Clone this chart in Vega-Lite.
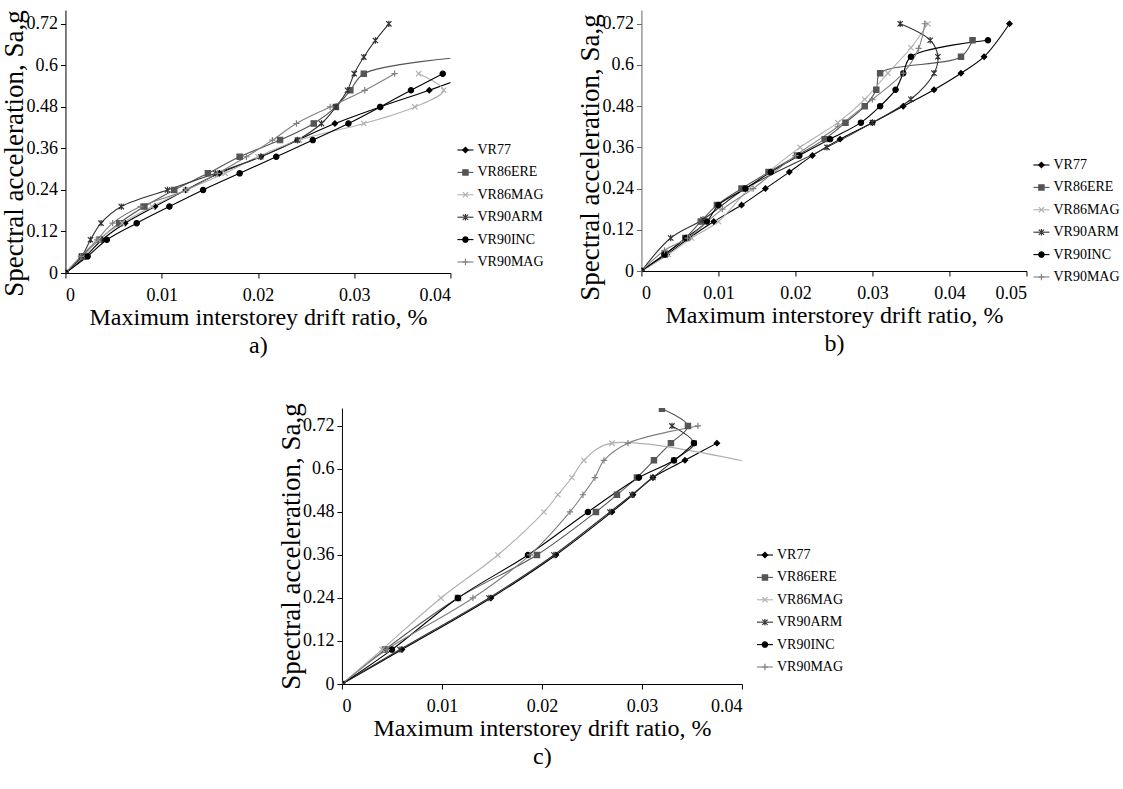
{
  "$schema": "https://vega.github.io/schema/vega-lite/v6.json",
  "background": "white",
  "padding": {"top": 9, "left": 0, "right": 0, "bottom": 0},
  "config": {
    "font": "Liberation Serif",
    "view": {"stroke": null},
    "axis": {"domainColor": "#000", "tickColor": "#000", "grid": false, "labelFont": "Liberation Serif", "labelFontSize": 18, "labelColor": "#000", "titleFont": "Liberation Serif", "titleFontSize": 24, "titleFontWeight": "normal", "titleColor": "#000", "tickSize": 5, "labelPadding": 3},
    "axisX": {"labelPadding": 8},
    "axisY": {"titleFontSize": 27}
  },
  "datasets": {
    "leg": [{"series": "VR77"}, {"series": "VR86ERE"}, {"series": "VR86MAG"}, {"series": "VR90ARM"}, {"series": "VR90INC"}, {"series": "VR90MAG"}],
    "a": [
      {"series": "VR77", "k": 0, "drift": 0, "sa": 0}, {"series": "VR77", "k": 1, "drift": 0.0021, "sa": 0.048}, {"series": "VR77", "k": 2, "drift": 0.0038, "sa": 0.096}, {"series": "VR77", "k": 3, "drift": 0.0062, "sa": 0.144}, {"series": "VR77", "k": 4, "drift": 0.0093, "sa": 0.192}, {"series": "VR77", "k": 5, "drift": 0.0125, "sa": 0.24}, {"series": "VR77", "k": 6, "drift": 0.016, "sa": 0.288}, {"series": "VR77", "k": 7, "drift": 0.0203, "sa": 0.336}, {"series": "VR77", "k": 8, "drift": 0.0241, "sa": 0.384}, {"series": "VR77", "k": 9, "drift": 0.028, "sa": 0.432}, {"series": "VR77", "k": 10, "drift": 0.0327, "sa": 0.48}, {"series": "VR77", "k": 11, "drift": 0.0378, "sa": 0.528}, {"series": "VR77", "k": 12, "drift": 0.0425, "sa": 0.576},
      {"series": "VR86ERE", "k": 0, "drift": 0, "sa": 0}, {"series": "VR86ERE", "k": 1, "drift": 0.0017, "sa": 0.048}, {"series": "VR86ERE", "k": 2, "drift": 0.0035, "sa": 0.096}, {"series": "VR86ERE", "k": 3, "drift": 0.0056, "sa": 0.144}, {"series": "VR86ERE", "k": 4, "drift": 0.0082, "sa": 0.192}, {"series": "VR86ERE", "k": 5, "drift": 0.0113, "sa": 0.24}, {"series": "VR86ERE", "k": 6, "drift": 0.0148, "sa": 0.288}, {"series": "VR86ERE", "k": 7, "drift": 0.0181, "sa": 0.336}, {"series": "VR86ERE", "k": 8, "drift": 0.0223, "sa": 0.384}, {"series": "VR86ERE", "k": 9, "drift": 0.0258, "sa": 0.432}, {"series": "VR86ERE", "k": 10, "drift": 0.0281, "sa": 0.48}, {"series": "VR86ERE", "k": 11, "drift": 0.0296, "sa": 0.528}, {"series": "VR86ERE", "k": 12, "drift": 0.031, "sa": 0.576}, {"series": "VR86ERE", "k": 13, "drift": 0.0415, "sa": 0.624},
      {"series": "VR86MAG", "k": 0, "drift": 0, "sa": 0}, {"series": "VR86MAG", "k": 1, "drift": 0.0019, "sa": 0.048}, {"series": "VR86MAG", "k": 2, "drift": 0.0034, "sa": 0.096}, {"series": "VR86MAG", "k": 3, "drift": 0.0059, "sa": 0.144}, {"series": "VR86MAG", "k": 4, "drift": 0.009, "sa": 0.192}, {"series": "VR86MAG", "k": 5, "drift": 0.0125, "sa": 0.24}, {"series": "VR86MAG", "k": 6, "drift": 0.0166, "sa": 0.288}, {"series": "VR86MAG", "k": 7, "drift": 0.02, "sa": 0.336}, {"series": "VR86MAG", "k": 8, "drift": 0.0243, "sa": 0.384}, {"series": "VR86MAG", "k": 9, "drift": 0.031, "sa": 0.432}, {"series": "VR86MAG", "k": 10, "drift": 0.0363, "sa": 0.48}, {"series": "VR86MAG", "k": 11, "drift": 0.0393, "sa": 0.528}, {"series": "VR86MAG", "k": 12, "drift": 0.0367, "sa": 0.576},
      {"series": "VR90ARM", "k": 0, "drift": 0, "sa": 0}, {"series": "VR90ARM", "k": 1, "drift": 0.0017, "sa": 0.048}, {"series": "VR90ARM", "k": 2, "drift": 0.0026, "sa": 0.096}, {"series": "VR90ARM", "k": 3, "drift": 0.0037, "sa": 0.144}, {"series": "VR90ARM", "k": 4, "drift": 0.0058, "sa": 0.192}, {"series": "VR90ARM", "k": 5, "drift": 0.0106, "sa": 0.24}, {"series": "VR90ARM", "k": 6, "drift": 0.0156, "sa": 0.288}, {"series": "VR90ARM", "k": 7, "drift": 0.0203, "sa": 0.336}, {"series": "VR90ARM", "k": 8, "drift": 0.0241, "sa": 0.384}, {"series": "VR90ARM", "k": 9, "drift": 0.0266, "sa": 0.432}, {"series": "VR90ARM", "k": 10, "drift": 0.0281, "sa": 0.48}, {"series": "VR90ARM", "k": 11, "drift": 0.0293, "sa": 0.528}, {"series": "VR90ARM", "k": 12, "drift": 0.03, "sa": 0.576}, {"series": "VR90ARM", "k": 13, "drift": 0.031, "sa": 0.624}, {"series": "VR90ARM", "k": 14, "drift": 0.0322, "sa": 0.672}, {"series": "VR90ARM", "k": 15, "drift": 0.0336, "sa": 0.72},
      {"series": "VR90INC", "k": 0, "drift": 0, "sa": 0}, {"series": "VR90INC", "k": 1, "drift": 0.0023, "sa": 0.048}, {"series": "VR90INC", "k": 2, "drift": 0.0043, "sa": 0.096}, {"series": "VR90INC", "k": 3, "drift": 0.0074, "sa": 0.144}, {"series": "VR90INC", "k": 4, "drift": 0.0108, "sa": 0.192}, {"series": "VR90INC", "k": 5, "drift": 0.0143, "sa": 0.24}, {"series": "VR90INC", "k": 6, "drift": 0.0181, "sa": 0.288}, {"series": "VR90INC", "k": 7, "drift": 0.0219, "sa": 0.336}, {"series": "VR90INC", "k": 8, "drift": 0.0257, "sa": 0.384}, {"series": "VR90INC", "k": 9, "drift": 0.0294, "sa": 0.432}, {"series": "VR90INC", "k": 10, "drift": 0.0327, "sa": 0.48}, {"series": "VR90INC", "k": 11, "drift": 0.0359, "sa": 0.528}, {"series": "VR90INC", "k": 12, "drift": 0.0392, "sa": 0.576},
      {"series": "VR90MAG", "k": 0, "drift": 0, "sa": 0}, {"series": "VR90MAG", "k": 1, "drift": 0.0016, "sa": 0.048}, {"series": "VR90MAG", "k": 2, "drift": 0.0033, "sa": 0.096}, {"series": "VR90MAG", "k": 3, "drift": 0.0049, "sa": 0.144}, {"series": "VR90MAG", "k": 4, "drift": 0.0078, "sa": 0.192}, {"series": "VR90MAG", "k": 5, "drift": 0.0126, "sa": 0.24}, {"series": "VR90MAG", "k": 6, "drift": 0.0158, "sa": 0.288}, {"series": "VR90MAG", "k": 7, "drift": 0.0188, "sa": 0.336}, {"series": "VR90MAG", "k": 8, "drift": 0.0215, "sa": 0.384}, {"series": "VR90MAG", "k": 9, "drift": 0.024, "sa": 0.432}, {"series": "VR90MAG", "k": 10, "drift": 0.0275, "sa": 0.48}, {"series": "VR90MAG", "k": 11, "drift": 0.0311, "sa": 0.528}, {"series": "VR90MAG", "k": 12, "drift": 0.0342, "sa": 0.576}
    ],
    "b": [
      {"series": "VR77", "k": 0, "drift": 0, "sa": 0}, {"series": "VR77", "k": 1, "drift": 0.0033, "sa": 0.048}, {"series": "VR77", "k": 2, "drift": 0.0062, "sa": 0.096}, {"series": "VR77", "k": 3, "drift": 0.0094, "sa": 0.144}, {"series": "VR77", "k": 4, "drift": 0.013, "sa": 0.192}, {"series": "VR77", "k": 5, "drift": 0.0161, "sa": 0.24}, {"series": "VR77", "k": 6, "drift": 0.0192, "sa": 0.288}, {"series": "VR77", "k": 7, "drift": 0.0222, "sa": 0.336}, {"series": "VR77", "k": 8, "drift": 0.0258, "sa": 0.384}, {"series": "VR77", "k": 9, "drift": 0.03, "sa": 0.432}, {"series": "VR77", "k": 10, "drift": 0.034, "sa": 0.48}, {"series": "VR77", "k": 11, "drift": 0.038, "sa": 0.528}, {"series": "VR77", "k": 12, "drift": 0.0415, "sa": 0.576}, {"series": "VR77", "k": 13, "drift": 0.0445, "sa": 0.624}, {"series": "VR77", "k": 14, "drift": 0.0478, "sa": 0.72},
      {"series": "VR86ERE", "k": 0, "drift": 0, "sa": 0}, {"series": "VR86ERE", "k": 1, "drift": 0.003, "sa": 0.048}, {"series": "VR86ERE", "k": 2, "drift": 0.0057, "sa": 0.096}, {"series": "VR86ERE", "k": 3, "drift": 0.0077, "sa": 0.144}, {"series": "VR86ERE", "k": 4, "drift": 0.0098, "sa": 0.192}, {"series": "VR86ERE", "k": 5, "drift": 0.013, "sa": 0.24}, {"series": "VR86ERE", "k": 6, "drift": 0.0165, "sa": 0.288}, {"series": "VR86ERE", "k": 7, "drift": 0.0202, "sa": 0.336}, {"series": "VR86ERE", "k": 8, "drift": 0.0238, "sa": 0.384}, {"series": "VR86ERE", "k": 9, "drift": 0.0265, "sa": 0.432}, {"series": "VR86ERE", "k": 10, "drift": 0.029, "sa": 0.48}, {"series": "VR86ERE", "k": 11, "drift": 0.0305, "sa": 0.528}, {"series": "VR86ERE", "k": 12, "drift": 0.031, "sa": 0.576}, {"series": "VR86ERE", "k": 13, "drift": 0.0415, "sa": 0.624}, {"series": "VR86ERE", "k": 14, "drift": 0.043, "sa": 0.672},
      {"series": "VR86MAG", "k": 0, "drift": 0, "sa": 0}, {"series": "VR86MAG", "k": 1, "drift": 0.0035, "sa": 0.048}, {"series": "VR86MAG", "k": 2, "drift": 0.0065, "sa": 0.096}, {"series": "VR86MAG", "k": 3, "drift": 0.01, "sa": 0.144}, {"series": "VR86MAG", "k": 4, "drift": 0.014, "sa": 0.24}, {"series": "VR86MAG", "k": 5, "drift": 0.0206, "sa": 0.36}, {"series": "VR86MAG", "k": 6, "drift": 0.0255, "sa": 0.432}, {"series": "VR86MAG", "k": 7, "drift": 0.029, "sa": 0.5}, {"series": "VR86MAG", "k": 8, "drift": 0.032, "sa": 0.576}, {"series": "VR86MAG", "k": 9, "drift": 0.035, "sa": 0.65}, {"series": "VR86MAG", "k": 10, "drift": 0.0372, "sa": 0.72},
      {"series": "VR90ARM", "k": 0, "drift": 0, "sa": 0}, {"series": "VR90ARM", "k": 1, "drift": 0.0038, "sa": 0.096}, {"series": "VR90ARM", "k": 2, "drift": 0.008, "sa": 0.15}, {"series": "VR90ARM", "k": 3, "drift": 0.0135, "sa": 0.24}, {"series": "VR90ARM", "k": 4, "drift": 0.0241, "sa": 0.36}, {"series": "VR90ARM", "k": 5, "drift": 0.03, "sa": 0.432}, {"series": "VR90ARM", "k": 6, "drift": 0.035, "sa": 0.5}, {"series": "VR90ARM", "k": 7, "drift": 0.038, "sa": 0.576}, {"series": "VR90ARM", "k": 8, "drift": 0.0385, "sa": 0.624}, {"series": "VR90ARM", "k": 9, "drift": 0.0375, "sa": 0.672}, {"series": "VR90ARM", "k": 10, "drift": 0.0336, "sa": 0.72},
      {"series": "VR90INC", "k": 0, "drift": 0, "sa": 0}, {"series": "VR90INC", "k": 1, "drift": 0.003, "sa": 0.048}, {"series": "VR90INC", "k": 2, "drift": 0.0058, "sa": 0.096}, {"series": "VR90INC", "k": 3, "drift": 0.0085, "sa": 0.144}, {"series": "VR90INC", "k": 4, "drift": 0.01, "sa": 0.192}, {"series": "VR90INC", "k": 5, "drift": 0.0135, "sa": 0.24}, {"series": "VR90INC", "k": 6, "drift": 0.0168, "sa": 0.288}, {"series": "VR90INC", "k": 7, "drift": 0.0205, "sa": 0.336}, {"series": "VR90INC", "k": 8, "drift": 0.0245, "sa": 0.384}, {"series": "VR90INC", "k": 9, "drift": 0.0285, "sa": 0.432}, {"series": "VR90INC", "k": 10, "drift": 0.031, "sa": 0.48}, {"series": "VR90INC", "k": 11, "drift": 0.033, "sa": 0.528}, {"series": "VR90INC", "k": 12, "drift": 0.034, "sa": 0.576}, {"series": "VR90INC", "k": 13, "drift": 0.035, "sa": 0.624}, {"series": "VR90INC", "k": 14, "drift": 0.045, "sa": 0.672},
      {"series": "VR90MAG", "k": 0, "drift": 0, "sa": 0}, {"series": "VR90MAG", "k": 1, "drift": 0.003, "sa": 0.06}, {"series": "VR90MAG", "k": 2, "drift": 0.006, "sa": 0.096}, {"series": "VR90MAG", "k": 3, "drift": 0.0105, "sa": 0.18}, {"series": "VR90MAG", "k": 4, "drift": 0.0145, "sa": 0.24}, {"series": "VR90MAG", "k": 5, "drift": 0.02, "sa": 0.336}, {"series": "VR90MAG", "k": 6, "drift": 0.0255, "sa": 0.42}, {"series": "VR90MAG", "k": 7, "drift": 0.03, "sa": 0.5}, {"series": "VR90MAG", "k": 8, "drift": 0.034, "sa": 0.576}, {"series": "VR90MAG", "k": 9, "drift": 0.036, "sa": 0.648}, {"series": "VR90MAG", "k": 10, "drift": 0.0368, "sa": 0.72}
    ],
    "c": [
      {"series": "VR77", "k": 0, "drift": 0, "sa": 0}, {"series": "VR77", "k": 1, "drift": 0.006, "sa": 0.096}, {"series": "VR77", "k": 2, "drift": 0.0149, "sa": 0.24}, {"series": "VR77", "k": 3, "drift": 0.0214, "sa": 0.36}, {"series": "VR77", "k": 4, "drift": 0.027, "sa": 0.48}, {"series": "VR77", "k": 5, "drift": 0.0291, "sa": 0.528}, {"series": "VR77", "k": 6, "drift": 0.0311, "sa": 0.576}, {"series": "VR77", "k": 7, "drift": 0.0343, "sa": 0.624}, {"series": "VR77", "k": 8, "drift": 0.0375, "sa": 0.672},
      {"series": "VR86ERE", "k": 0, "drift": 0, "sa": 0}, {"series": "VR86ERE", "k": 1, "drift": 0.0043, "sa": 0.096}, {"series": "VR86ERE", "k": 2, "drift": 0.0116, "sa": 0.24}, {"series": "VR86ERE", "k": 3, "drift": 0.0195, "sa": 0.36}, {"series": "VR86ERE", "k": 4, "drift": 0.0254, "sa": 0.48}, {"series": "VR86ERE", "k": 5, "drift": 0.0275, "sa": 0.528}, {"series": "VR86ERE", "k": 6, "drift": 0.0295, "sa": 0.576}, {"series": "VR86ERE", "k": 7, "drift": 0.0312, "sa": 0.624}, {"series": "VR86ERE", "k": 8, "drift": 0.0329, "sa": 0.672}, {"series": "VR86ERE", "k": 9, "drift": 0.0346, "sa": 0.72}, {"series": "VR86ERE", "k": 10, "drift": 0.032, "sa": 0.768},
      {"series": "VR86MAG", "k": 0, "drift": 0, "sa": 0}, {"series": "VR86MAG", "k": 1, "drift": 0.004, "sa": 0.096}, {"series": "VR86MAG", "k": 2, "drift": 0.0099, "sa": 0.24}, {"series": "VR86MAG", "k": 3, "drift": 0.0156, "sa": 0.36}, {"series": "VR86MAG", "k": 4, "drift": 0.0202, "sa": 0.48}, {"series": "VR86MAG", "k": 5, "drift": 0.0216, "sa": 0.528}, {"series": "VR86MAG", "k": 6, "drift": 0.023, "sa": 0.576}, {"series": "VR86MAG", "k": 7, "drift": 0.0242, "sa": 0.624}, {"series": "VR86MAG", "k": 8, "drift": 0.027, "sa": 0.672}, {"series": "VR86MAG", "k": 9, "drift": 0.06, "sa": 0.49},
      {"series": "VR90ARM", "k": 0, "drift": 0, "sa": 0}, {"series": "VR90ARM", "k": 1, "drift": 0.0058, "sa": 0.096}, {"series": "VR90ARM", "k": 2, "drift": 0.0147, "sa": 0.24}, {"series": "VR90ARM", "k": 3, "drift": 0.0212, "sa": 0.36}, {"series": "VR90ARM", "k": 4, "drift": 0.0268, "sa": 0.48}, {"series": "VR90ARM", "k": 5, "drift": 0.029, "sa": 0.528}, {"series": "VR90ARM", "k": 6, "drift": 0.0311, "sa": 0.576}, {"series": "VR90ARM", "k": 7, "drift": 0.0332, "sa": 0.624}, {"series": "VR90ARM", "k": 8, "drift": 0.0352, "sa": 0.672}, {"series": "VR90ARM", "k": 9, "drift": 0.033, "sa": 0.72},
      {"series": "VR90INC", "k": 0, "drift": 0, "sa": 0}, {"series": "VR90INC", "k": 1, "drift": 0.005, "sa": 0.096}, {"series": "VR90INC", "k": 2, "drift": 0.0116, "sa": 0.24}, {"series": "VR90INC", "k": 3, "drift": 0.0186, "sa": 0.36}, {"series": "VR90INC", "k": 4, "drift": 0.0246, "sa": 0.48}, {"series": "VR90INC", "k": 5, "drift": 0.0297, "sa": 0.576}, {"series": "VR90INC", "k": 6, "drift": 0.0332, "sa": 0.624}, {"series": "VR90INC", "k": 7, "drift": 0.0352, "sa": 0.672},
      {"series": "VR90MAG", "k": 0, "drift": 0, "sa": 0}, {"series": "VR90MAG", "k": 1, "drift": 0.0045, "sa": 0.096}, {"series": "VR90MAG", "k": 2, "drift": 0.0131, "sa": 0.24}, {"series": "VR90MAG", "k": 3, "drift": 0.0188, "sa": 0.36}, {"series": "VR90MAG", "k": 4, "drift": 0.0228, "sa": 0.48}, {"series": "VR90MAG", "k": 5, "drift": 0.0241, "sa": 0.528}, {"series": "VR90MAG", "k": 6, "drift": 0.0253, "sa": 0.576}, {"series": "VR90MAG", "k": 7, "drift": 0.0262, "sa": 0.624}, {"series": "VR90MAG", "k": 8, "drift": 0.0286, "sa": 0.672}, {"series": "VR90MAG", "k": 9, "drift": 0.0356, "sa": 0.72}
    ]
  },
  "vconcat": [
    {
      "hconcat": [
        {
          "width": 385, "height": 263,
          "layer": [
            {
              "data": {"name": "a"},
              "encoding": {
                "x": {"field": "drift", "type": "quantitative", "scale": {"domain": [0, 0.04], "nice": false, "zero": true}, "axis": {"values": [0, 0.01, 0.02, 0.03, 0.04], "format": ".2~f", "title": ["Maximum interstorey drift ratio, %", "a)"], "titleLineHeight": 28, "titlePadding": 1}},
                "y": {"field": "sa", "type": "quantitative", "scale": {"domain": [0, 0.76], "nice": false}, "axis": {"values": [0, 0.12, 0.24, 0.36, 0.48, 0.6, 0.72], "format": ".2~f", "title": "Spectral acceleration, Sa,g", "titlePadding": -3, "titleY": 143}}
              },
              "layer": [
                {"mark": {"type": "line", "interpolate": "catmull-rom", "strokeWidth": 1.1, "clip": true},
                 "encoding": {"order": {"field": "k", "type": "quantitative"}, "detail": {"field": "series"},
                   "stroke": {"field": "series", "type": "nominal", "scale": {"domain": ["VR77", "VR86ERE", "VR86MAG", "VR90ARM", "VR90INC", "VR90MAG"], "range": ["#000000", "#555555", "#b0b0b0", "#333333", "#000000", "#808080"]}, "legend": null}}},
                {"mark": {"type": "point", "filled": true, "size": 28, "strokeWidth": 1.2, "opacity": 1, "clip": true},
                 "encoding": {
                   "stroke": {"field": "series", "type": "nominal", "legend": null},
                   "fill": {"field": "series", "type": "nominal", "scale": {"domain": ["VR77", "VR86ERE", "VR86MAG", "VR90ARM", "VR90INC", "VR90MAG"], "range": ["#000000", "#555555", "#b0b0b0", "#333333", "#000000", "#808080"]}, "legend": null},
                   "shape": {"field": "series", "type": "nominal", "scale": {"domain": ["VR77", "VR86ERE", "VR86MAG", "VR90ARM", "VR90INC", "VR90MAG"], "range": ["diamond", "square", "M-1,-1L1,1M-1,1L1,-1", "M-1,-1L1,1M-1,1L1,-1M0,-1.2L0,1.2", "circle", "M-1.2,0L1.2,0M0,-1.2L0,1.2"]}, "legend": null}
                 }}
              ]
            },
            {
              "data": {"name": "leg"},
              "encoding": {
                "y": {"field": "series", "type": "nominal", "scale": {"type": "point", "padding": 0, "domain": ["VR77", "VR86ERE", "VR86MAG", "VR90ARM", "VR90INC", "VR90MAG"], "range": [140, 252]}, "axis": null}
              },
              "layer": [
                {"mark": {"type": "rule", "strokeWidth": 1.1},
                 "encoding": {"x": {"datum": 0, "type": "quantitative", "scale": {"domain": [0, 1], "range": [392, 408]}, "axis": null}, "x2": {"datum": 1}, "stroke": {"field": "series", "type": "nominal", "legend": null}}},
                {"mark": {"type": "point", "filled": true, "size": 28, "strokeWidth": 1.2, "opacity": 1},
                 "encoding": {"x": {"datum": 0.5, "type": "quantitative"}, "stroke": {"field": "series", "type": "nominal", "legend": null}, "fill": {"field": "series", "type": "nominal", "legend": null}, "shape": {"field": "series", "type": "nominal", "legend": null}}},
                {"mark": {"type": "text", "align": "left", "baseline": "middle", "dx": 4, "fontSize": 14, "font": "Liberation Serif", "color": "#000"},
                 "encoding": {"x": {"datum": 1, "type": "quantitative"}, "text": {"field": "series"}}}
              ]
            }
          ],
          "resolve": {"scale": {"x": "independent", "y": "independent"}}
        },
        {
          "width": 385, "height": 261,
          "layer": [
            {
              "data": {"name": "b"},
              "encoding": {
                "x": {"field": "drift", "type": "quantitative", "scale": {"domain": [0, 0.05], "nice": false, "zero": true}, "axis": {"values": [0, 0.01, 0.02, 0.03, 0.04, 0.05], "format": ".2~f", "title": ["Maximum interstorey drift ratio, %", "b)"], "titleLineHeight": 28, "titlePadding": 1}},
                "y": {"field": "sa", "type": "quantitative", "scale": {"domain": [0, 0.76], "nice": false}, "axis": {"values": [0, 0.12, 0.24, 0.36, 0.48, 0.6, 0.72], "format": ".2~f", "title": "Spectral acceleration, Sa,g", "titlePadding": -3, "titleY": 147, "domainColor": "#666666", "tickColor": "#666666"}}
              },
              "layer": [
                {"mark": {"type": "line", "interpolate": "catmull-rom", "strokeWidth": 1.1, "clip": true},
                 "encoding": {"order": {"field": "k", "type": "quantitative"}, "detail": {"field": "series"},
                   "stroke": {"field": "series", "type": "nominal", "scale": {"domain": ["VR77", "VR86ERE", "VR86MAG", "VR90ARM", "VR90INC", "VR90MAG"], "range": ["#000000", "#555555", "#b0b0b0", "#333333", "#000000", "#808080"]}, "legend": null}}},
                {"mark": {"type": "point", "filled": true, "size": 28, "strokeWidth": 1.2, "opacity": 1, "clip": true},
                 "encoding": {
                   "stroke": {"field": "series", "type": "nominal", "legend": null},
                   "fill": {"field": "series", "type": "nominal", "scale": {"domain": ["VR77", "VR86ERE", "VR86MAG", "VR90ARM", "VR90INC", "VR90MAG"], "range": ["#000000", "#555555", "#b0b0b0", "#333333", "#000000", "#808080"]}, "legend": null},
                   "shape": {"field": "series", "type": "nominal", "scale": {"domain": ["VR77", "VR86ERE", "VR86MAG", "VR90ARM", "VR90INC", "VR90MAG"], "range": ["diamond", "square", "M-1,-1L1,1M-1,1L1,-1", "M-1,-1L1,1M-1,1L1,-1M0,-1.2L0,1.2", "circle", "M-1.2,0L1.2,0M0,-1.2L0,1.2"]}, "legend": null}
                 }}
              ]
            },
            {
              "data": {"name": "leg"},
              "encoding": {
                "y": {"field": "series", "type": "nominal", "scale": {"type": "point", "padding": 0, "domain": ["VR77", "VR86ERE", "VR86MAG", "VR90ARM", "VR90INC", "VR90MAG"], "range": [155, 267]}, "axis": null}
              },
              "layer": [
                {"mark": {"type": "rule", "strokeWidth": 1.1},
                 "encoding": {"x": {"datum": 0, "type": "quantitative", "scale": {"domain": [0, 1], "range": [392, 408]}, "axis": null}, "x2": {"datum": 1}, "stroke": {"field": "series", "type": "nominal", "legend": null}}},
                {"mark": {"type": "point", "filled": true, "size": 28, "strokeWidth": 1.2, "opacity": 1},
                 "encoding": {"x": {"datum": 0.5, "type": "quantitative"}, "stroke": {"field": "series", "type": "nominal", "legend": null}, "fill": {"field": "series", "type": "nominal", "legend": null}, "shape": {"field": "series", "type": "nominal", "legend": null}}},
                {"mark": {"type": "text", "align": "left", "baseline": "middle", "dx": 4, "fontSize": 14, "font": "Liberation Serif", "color": "#000"},
                 "encoding": {"x": {"datum": 1, "type": "quantitative"}, "text": {"field": "series"}}}
              ]
            }
          ],
          "resolve": {"scale": {"x": "independent", "y": "independent"}}
        }
      ],
      "spacing": 32
    },
    {
      "width": 400, "height": 276,
      "layer": [
        {
          "data": {"name": "c"},
          "encoding": {
            "x": {"field": "drift", "type": "quantitative", "scale": {"domain": [0, 0.04], "nice": false, "zero": true}, "axis": {"values": [0, 0.01, 0.02, 0.03, 0.04], "format": ".2~f", "title": ["Maximum interstorey drift ratio, %", "c)"], "titleLineHeight": 28, "titlePadding": 1}},
            "y": {"field": "sa", "type": "quantitative", "scale": {"domain": [0, 0.77], "nice": false}, "axis": {"values": [0, 0.12, 0.24, 0.36, 0.48, 0.6, 0.72], "format": ".2~f", "title": "Spectral acceleration, Sa,g", "titlePadding": -3}}
          },
          "layer": [
            {"mark": {"type": "line", "interpolate": "catmull-rom", "strokeWidth": 1.1, "clip": true},
             "encoding": {"order": {"field": "k", "type": "quantitative"}, "detail": {"field": "series"},
               "stroke": {"field": "series", "type": "nominal", "scale": {"domain": ["VR77", "VR86ERE", "VR86MAG", "VR90ARM", "VR90INC", "VR90MAG"], "range": ["#000000", "#555555", "#b0b0b0", "#333333", "#000000", "#808080"]}, "legend": null}}},
            {"mark": {"type": "point", "filled": true, "size": 28, "strokeWidth": 1.2, "opacity": 1, "clip": true},
             "encoding": {
               "stroke": {"field": "series", "type": "nominal", "legend": null},
               "fill": {"field": "series", "type": "nominal", "scale": {"domain": ["VR77", "VR86ERE", "VR86MAG", "VR90ARM", "VR90INC", "VR90MAG"], "range": ["#000000", "#555555", "#b0b0b0", "#333333", "#000000", "#808080"]}, "legend": null},
               "shape": {"field": "series", "type": "nominal", "scale": {"domain": ["VR77", "VR86ERE", "VR86MAG", "VR90ARM", "VR90INC", "VR90MAG"], "range": ["diamond", "square", "M-1,-1L1,1M-1,1L1,-1", "M-1,-1L1,1M-1,1L1,-1M0,-1.2L0,1.2", "circle", "M-1.2,0L1.2,0M0,-1.2L0,1.2"]}, "legend": null}
             }}
          ]
        },
        {
          "data": {"name": "leg"},
          "encoding": {
            "y": {"field": "series", "type": "nominal", "scale": {"type": "point", "padding": 0, "domain": ["VR77", "VR86ERE", "VR86MAG", "VR90ARM", "VR90INC", "VR90MAG"], "range": [147, 259]}, "axis": null}
          },
          "layer": [
            {"mark": {"type": "rule", "strokeWidth": 1.1},
             "encoding": {"x": {"datum": 0, "type": "quantitative", "scale": {"domain": [0, 1], "range": [415, 431]}, "axis": null}, "x2": {"datum": 1}, "stroke": {"field": "series", "type": "nominal", "legend": null}}},
            {"mark": {"type": "point", "filled": true, "size": 28, "strokeWidth": 1.2, "opacity": 1},
             "encoding": {"x": {"datum": 0.5, "type": "quantitative"}, "stroke": {"field": "series", "type": "nominal", "legend": null}, "fill": {"field": "series", "type": "nominal", "legend": null}, "shape": {"field": "series", "type": "nominal", "legend": null}}},
            {"mark": {"type": "text", "align": "left", "baseline": "middle", "dx": 4, "fontSize": 14, "font": "Liberation Serif", "color": "#000"},
             "encoding": {"x": {"datum": 1, "type": "quantitative"}, "text": {"field": "series"}}}
          ]
        }
      ],
      "resolve": {"scale": {"x": "independent", "y": "independent"}}
    }
  ],
  "spacing": 45,
  "center": true
}
